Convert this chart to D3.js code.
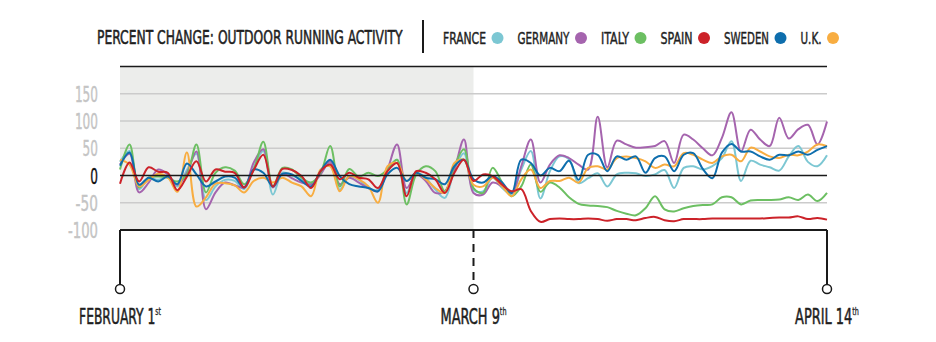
<!DOCTYPE html>
<html>
<head>
<meta charset="utf-8">
<script src="https://cdn.jsdelivr.net/npm/d3@7"></script>
<style>
  html, body { margin: 0; padding: 0; background: #fff; }
  svg { display: block; }
  text { font-family: "Liberation Sans Narrow", "Arial Narrow", "DejaVu Sans Condensed", sans-serif; }
</style>
</head>
<body>
<svg id="chart" width="936" height="342"></svg>
<script>
// Daily percent change in outdoor running activity, Feb 1 onward (one value per day)
const france = [25,45,-25,-5,-8,-3,-20,10,40,-45,
  -20,-8,-10,-25,15,45,-35,5,0,-7,
  -16,5,23,-26,-1,-8,-23,-26,11,29,
  -32,5,-4,-26,-41,11,41,-26,-29,-4,
  -23,-35,11,45,-42,8,35,30,-14,-5,
  4,-20,2,5,4,-1,2,10,-23,14,
  17,11,17,32,63,-10,27,20,15,9,
  35,54,25,17,37];
const germany = [20,40,-31,-13,11,2,-17,5,44,-62,
  -31,-13,-18,-22,24,48,-22,3,-5,-13,
  -16,2,26,-16,-4,-13,-23,-29,11,57,
  -23,2,-10,-32,-29,11,66,-32,-35,-13,
  -20,-32,17,66,-13,20,37,32,20,11,
  108,15,64,57,51,52,54,63,23,75,
  66,50,37,69,116,44,84,66,54,106,
  68,85,93,57,99];
const italy = [11,57,-22,-4,-2,-4,-11,2,57,-31,
  5,15,9,-16,11,62,-20,14,11,-4,
  -13,5,54,-20,12,-2,5,-1,11,29,
  -53,2,17,8,-29,17,48,-23,-32,14,
  -13,-38,-20,20,-30,-13,-22,-40,-52,-55,
  -56,-58,-65,-70,-73,-60,-38,-62,-66,-60,
  -56,-54,-53,-40,-40,-53,-46,-45,-45,-44,
  -40,-45,-35,-47,-32];
const spain = [-15,24,-11,15,7,5,-27,-2,26,-11,
  11,7,5,-22,10,38,-20,12,10,-1,
  -23,8,20,-7,5,-4,-7,-23,8,23,
  -38,8,5,-7,-32,5,29,-10,2,-1,
  -17,-29,-25,-65,-85,-80,-79,-80,-80,-79,
  -80,-83,-80,-80,-82,-78,-76,-82,-84,-80,
  -80,-80,-79,-79,-79,-79,-79,-79,-78,-77,
  -77,-75,-80,-78,-81];
const sweden = [18,42,-17,-4,-11,-2,-16,22,2,-20,
  -11,-2,-4,-22,11,5,-20,3,2,-10,
  -20,8,29,-1,-16,-20,-23,-29,2,14,
  -10,5,-4,-7,-16,17,29,-7,-13,-1,
  -13,-32,29,23,0,14,8,27,-8,38,
  38,8,35,29,35,5,32,35,8,38,
  41,12,-5,42,58,44,44,35,29,38,
  37,44,38,47,54];
const uk = [29,20,-20,-8,3,-3,-30,42,-57,-40,
  -15,-14,-18,-31,-10,-4,-13,-4,-13,-20,
  -38,11,17,-29,-1,-7,-20,-50,17,23,
  -10,5,-7,-23,-32,23,29,-17,-20,-4,
  -20,-38,-7,11,-23,-10,-10,-4,-13,14,
  17,11,32,35,32,26,14,20,17,41,
  38,29,23,35,38,26,51,44,35,32,
  38,37,44,57,54];

const countries = ["FRANCE", "GERMANY", "ITALY", "SPAIN", "SWEDEN", "U.K."];
const seriesValues = [france, germany, italy, spain, sweden, uk];
const yTicks = [150, 100, 50, 0, -50, -100];
const dateMarkers = [
  { label: "FEBRUARY 1", sup: "st", day: 0 },
  { label: "MARCH 9", sup: "th", day: 37 },
  { label: "APRIL 14", sup: "th", day: 74 }
];
const titleText = "PERCENT CHANGE: OUTDOOR RUNNING ACTIVITY";

// ---- styling / layout ----
const palette = {
  "FRANCE": "#7cc7d3",
  "GERMANY": "#a564ae",
  "ITALY": "#6cbf62",
  "SPAIN": "#cc2229",
  "SWEDEN": "#0e6ead",
  "U.K.": "#f8ad41"
};
const legendWidths = { "FRANCE": 43, "GERMANY": 52, "ITALY": 28, "SPAIN": 32, "SWEDEN": 45, "U.K.": 21 };
const markerTextWidths = { "FEBRUARY 1": 82, "MARCH 9": 66, "APRIL 14": 64 };
const drawOrder = ["FRANCE", "GERMANY", "ITALY", "U.K.", "SWEDEN", "SPAIN"];
const ink = "#1f1f1f";

const svg = d3.select("#chart");
const left = 120, right = 827;
const nDays = france.length;

const x = d3.scaleLinear().domain([0, nDays - 1]).range([left, right]);
const y = d3.scaleLinear().domain([-100, 200]).range([230, 66.5]);

// squeeze a text node horizontally so its drawn width equals `width`
function fitWidth(sel, width, anchorX, baseY, anchor) {
  const natural = sel.node().getComputedTextLength();
  const s = width / natural;
  sel.attr("x", 0).attr("y", 0)
    .attr("text-anchor", anchor || "start")
    .attr("transform", `translate(${anchorX},${baseY}) scale(${s},1)`);
  return sel;
}

// slightly heavier strokes for the condensed headline lettering
function inked(sel, color, weight) {
  return sel.attr("fill", color).attr("stroke", color)
    .attr("stroke-width", weight).attr("stroke-linejoin", "round");
}

// pre-March 9 shaded period
const shadeEnd = dateMarkers[1].day;
svg.append("rect")
  .attr("x", x(0)).attr("y", y(200))
  .attr("width", x(shadeEnd) - x(0))
  .attr("height", y(-100) - y(200))
  .attr("fill", "#ecedeb");

// horizontal grid
svg.append("g").selectAll("line")
  .data(yTicks.filter(t => t !== 0 && t !== -100))
  .join("line")
  .attr("x1", left).attr("x2", right)
  .attr("y1", d => y(d)).attr("y2", d => y(d))
  .attr("stroke", "#cbcbcb").attr("stroke-width", 1.5);

// frame top line
svg.append("line")
  .attr("x1", left).attr("x2", right)
  .attr("y1", y(200)).attr("y2", y(200))
  .attr("stroke", "#1a1a1a").attr("stroke-width", 1.5);

// y-axis labels
const yLabelG = svg.append("g");
yTicks.forEach(t => {
  const str = String(t);
  const w = str.split("").reduce((s, c) => s + (c === "-" ? 7 : 7.7), 0);
  const tx = yLabelG.append("text")
    .attr("font-size", 22)
    .text(str);
  inked(tx, t === 0 ? "#111" : "#c4c4c4", 0.4);
  fitWidth(tx, w, 98, y(t) + 8, "end");
});

// series lines
const line = d3.line()
  .x((d, i) => x(i))
  .y(d => y(d))
  .curve(d3.curveCatmullRom.alpha(0.5));

svg.append("g").selectAll("path")
  .data(drawOrder.map(name => ({ name, values: seriesValues[countries.indexOf(name)] })))
  .join("path")
  .attr("d", d => line(d.values))
  .attr("fill", "none")
  .attr("stroke", d => palette[d.name])
  .attr("stroke-width", 2)
  .attr("stroke-linejoin", "round");

// zero line
svg.append("line")
  .attr("x1", left).attr("x2", right)
  .attr("y1", y(0)).attr("y2", y(0))
  .attr("stroke", "#1a1a1a").attr("stroke-width", 1.5);

// bottom frame line
svg.append("line")
  .attr("x1", left).attr("x2", right)
  .attr("y1", y(-100)).attr("y2", y(-100))
  .attr("stroke", "#1a1a1a").attr("stroke-width", 2);

// date markers: stem, ring, label with ordinal suffix
const markerG = svg.append("g").selectAll("g")
  .data(dateMarkers)
  .join("g");

const ringY = 289, ringR = 4.5;
markerG.append("line")
  .attr("x1", d => x(d.day)).attr("x2", d => x(d.day))
  .attr("y1", y(-100)).attr("y2", ringY - ringR)
  .attr("stroke", "#1a1a1a").attr("stroke-width", 2)
  .attr("stroke-dasharray", (d, i) => i === 1 ? "8,6" : null);

markerG.append("circle")
  .attr("cx", d => x(d.day)).attr("cy", ringY).attr("r", ringR)
  .attr("fill", "#fff").attr("stroke", "#1a1a1a").attr("stroke-width", 1.5);

markerG.each(function (d) {
  const t = d3.select(this).append("text")
    .attr("font-size", 22);
  inked(t, ink, 0.55);
  t.append("tspan").text(d.label);
  t.append("tspan")
    .attr("font-size", 11)
    .attr("stroke-width", 0.3)
    .attr("dy", -9)
    .text(d.sup);
  fitWidth(t, markerTextWidths[d.label], x(d.day), 324, "middle");
});

// title
const title = svg.append("text")
  .attr("font-size", 19.5)
  .text(titleText);
inked(title, ink, 0.55);
fitWidth(title, 306, 97, 44, "start");

// divider between title and legend
svg.append("line")
  .attr("x1", 423).attr("x2", 423)
  .attr("y1", 20).attr("y2", 53)
  .attr("stroke", "#1a1a1a").attr("stroke-width", 2);

// legend
let cursor = 443;
const legendG = svg.append("g");
countries.forEach(name => {
  const w = legendWidths[name];
  const tx = legendG.append("text")
    .attr("font-size", 16.5)
    .text(name);
  inked(tx, ink, 0.45);
  fitWidth(tx, w, cursor, 44, "start");
  const cx = cursor + w + 11.5;
  legendG.append("circle")
    .attr("cx", cx).attr("cy", 38).attr("r", 6)
    .attr("fill", palette[name]);
  cursor = cx + 20;
});
</script>
</body>
</html>
